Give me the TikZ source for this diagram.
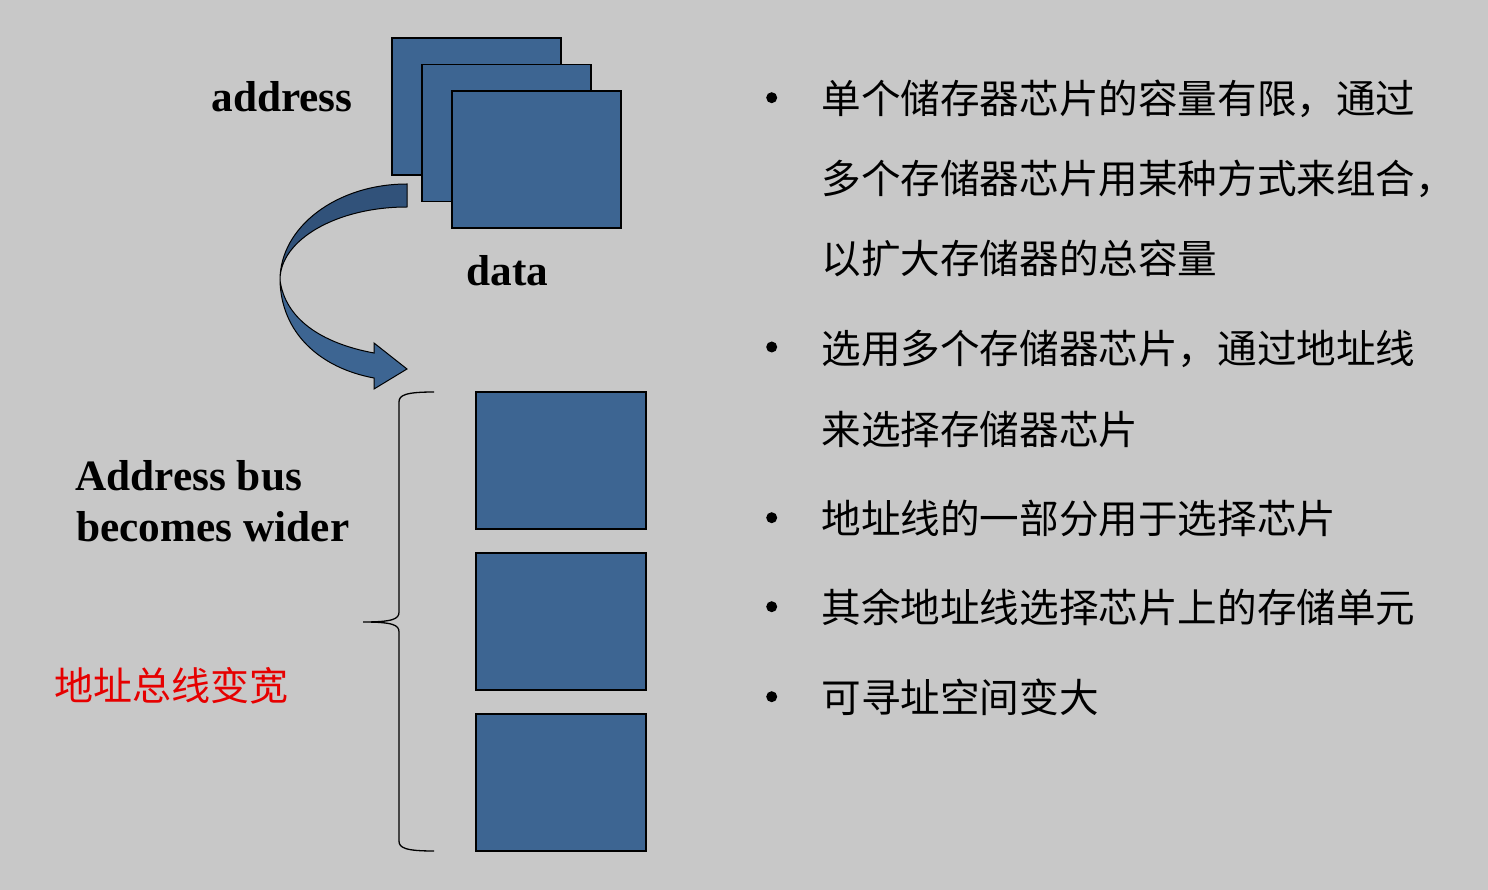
\documentclass[tikz,border=0pt]{standalone}
\usepackage{fontspec}
\setmainfont{Liberation Serif}
\newfontfamily\cjk{Noto Sans CJK SC}
\definecolor{slide}{RGB}{200, 200, 200}
\definecolor{chip}{RGB}{61, 101, 146}
\definecolor{chipdark}{RGB}{49, 82, 122}
\definecolor{note}{RGB}{230, 0, 0}
\newcommand{\bigbold}{\fontsize{43.3}{52}\selectfont\bfseries}
\newcommand{\zh}{\cjk\fontsize{39.6}{48}\selectfont}

\begin{document}
\begin{tikzpicture}[x=1pt, y=-1pt, thick]

  \fill[slide] (0, 0) rectangle (1488, 890);
  \useasboundingbox (0, 0) rectangle (1488, 890);

  \foreach \i in {0, 1, 2} {
    \draw[fill=chip, line width=1.4pt] ({392 + 30*\i}, {38 + 26.5*\i}) rectangle +(169, 137);
  }

  \foreach \i in {0, 1, 2} {
    \draw[fill=chip, line width=1.4pt] (476, {392 + 161*\i}) rectangle +(170, 137);
  }

  \node[anchor=base west, inner sep=0] (addr) at (211, 112) {\bigbold address};
  \node[anchor=base west, inner sep=0] (data) at (466, 285.5) {\bigbold data};

  % twisted arrow
  \filldraw[fill=chip, line width=1pt] (280, 280) .. controls (281, 333) and (320, 368) .. (374, 378)
    -- (374, 389) -- (407, 369) -- (374, 343) -- (374, 353)
    .. controls (320, 343) and (285, 318) .. (280, 280) -- cycle;
  \filldraw[fill=chipdark, line width=1pt] (407, 184)
    arc[start angle=270, end angle=180, x radius=127, y radius=96]
    arc[start angle=180, end angle=270, x radius=127, y radius=73] -- cycle;

  \draw[line width=1.3pt] (434, 392) .. controls (406, 392) and (399, 395) .. (399, 402)
    -- (399, 612) .. controls (399, 619) and (393, 622) .. (363, 622)
    .. controls (393, 622) and (399, 625) .. (399, 632)
    -- (399, 841) .. controls (399, 848) and (406, 851) .. (434, 851);

  \node[anchor=base west, inner sep=0] (bus1) at (75, 490) {\bigbold Address bus};
  \node[anchor=base west, inner sep=0] (bus2) at (76, 541.5) {\bigbold becomes wider};
  \node[anchor=base west, inner sep=0, color=note] (wide) at (54, 700) {\cjk\fontsize{39}{48}\selectfont 地址总线变宽};

  \foreach \y in {97.7, 347, 517.7, 606.7, 696.7} {
    \fill (771.7, \y) circle (5.5);
  }

  \foreach \y/\t [count=\n] in {113.5/单个储存器芯片的容量有限，通过,
      193.5/多个存储器芯片用某种方式来组合，,
      273.5/以扩大存储器的总容量,
      363/选用多个存储器芯片，通过地址线,
      444/来选择存储器芯片,
      533/地址线的一部分用于选择芯片,
      622/其余地址线选择芯片上的存储单元,
      712/可寻址空间变大} {
    \node[anchor=base west, inner sep=0] (line\n) at (821, \y) {\zh \t};
  }

\end{tikzpicture}
\end{document}
